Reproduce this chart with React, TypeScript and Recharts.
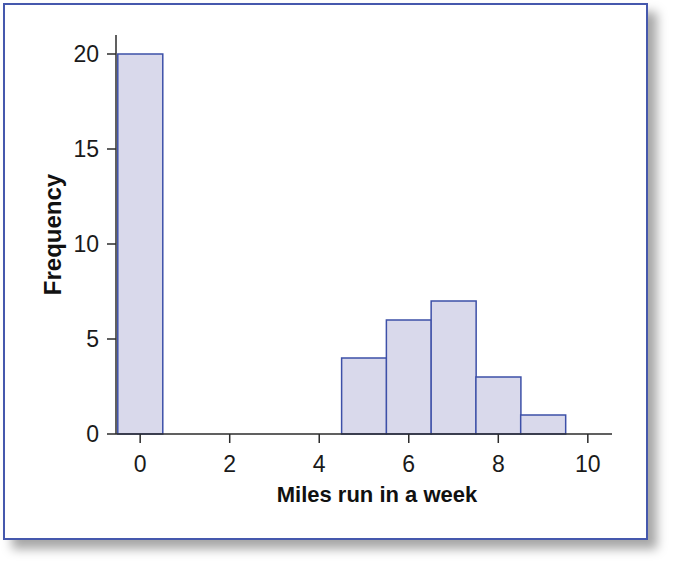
// Histogram: miles run in a week vs frequency, framed with a blue border.

import { ComposedChart, Bar, XAxis, YAxis } from "recharts";

const miles = [0, 1, 2, 3, 4, 5, 6, 7, 8, 9];
const frequency = [20, 0, 0, 0, 0, 4, 6, 7, 3, 1];
const xTicks = [0, 2, 4, 6, 8, 10];
const yTicks = [0, 5, 10, 15, 20];

const data = miles.map((m, i) => ({ miles: m, count: frequency[i] }));

const FONT = '"Liberation Sans", Arial, Helvetica, sans-serif';
const AXIS = "#2b2b2b";

export default function App() {
  return (
    <div style={{ position: "absolute", left: 0, top: 0, width: 673, height: 566, background: "#fff" }}>
      <div
        style={{
          position: "absolute",
          left: 3,
          top: 3,
          width: 641,
          height: 533,
          border: "2px solid #4558ad",
          boxShadow: "9px 9px 10px rgba(0,0,0,0.35)",
          background: "#fff",
        }}
      />
      <div style={{ position: "absolute", left: 0, top: 0 }}>
        <ComposedChart
          width={673}
          height={566}
          data={data}
          margin={{ top: 35, right: 61, bottom: 52, left: 16 }}
          barCategoryGap={0}
          barGap={0}
          style={{ fontFamily: FONT }}
        >
          <XAxis
            dataKey="miles"
            type="number"
            domain={[-0.54, 10.54]}
            ticks={xTicks}
            height={80}
            stroke={AXIS}
            strokeWidth={1.5}
            tickSize={9}
            tickMargin={13}
            tick={{ fill: "#1a1a1a", fontSize: 23 }}
            label={{
              value: "Miles run in a week",
              position: "insideBottom",
              offset: 12,
              dx: 13,
              fill: "#111",
              fontSize: 22,
              fontWeight: "bold",
            }}
          />
          <YAxis
            type="number"
            domain={[0, 21]}
            ticks={yTicks}
            width={100}
            stroke={AXIS}
            strokeWidth={1.5}
            tickSize={9}
            tickMargin={8}
            tick={{ fill: "#1a1a1a", fontSize: 23 }}
            label={{
              value: "Frequency",
              angle: -90,
              position: "center",
              dx: -14,
              fill: "#111",
              fontSize: 24,
              fontWeight: "bold",
            }}
          />
          <Bar
            dataKey="count"
            fill="#d9d9eb"
            stroke="#3d50a8"
            strokeWidth={1.5}
            isAnimationActive={false}
          />
        </ComposedChart>
      </div>
    </div>
  );
}
